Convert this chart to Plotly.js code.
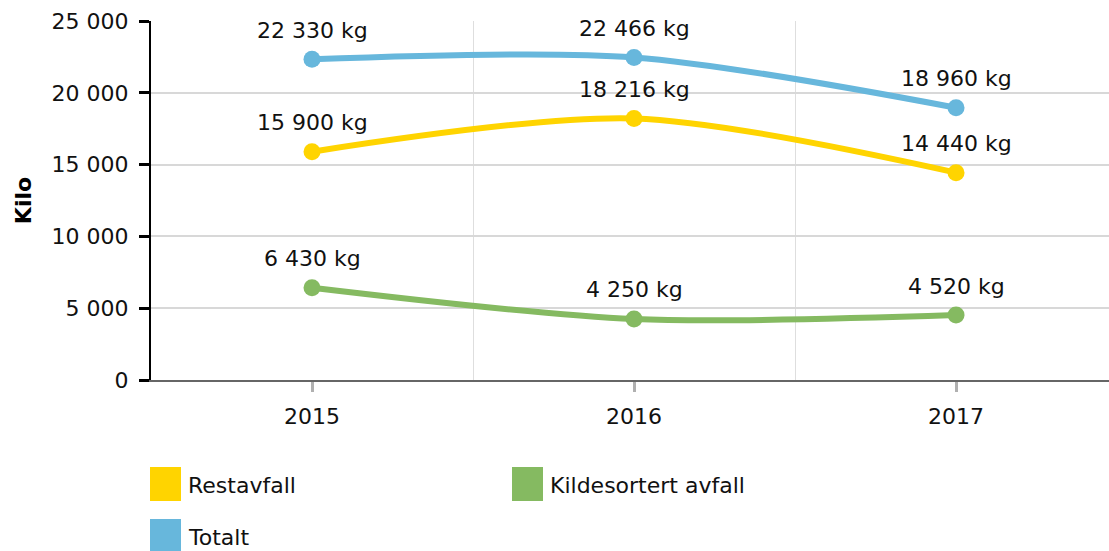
<!DOCTYPE html>
<html>
<head>
<meta charset="utf-8">
<script src="https://cdn.plot.ly/plotly-3.0.1.min.js"></script>
<style>html,body{margin:0;padding:0;background:#fff;}#chart{width:1109px;height:551px;}</style>
</head>
<body>
<div id="chart"></div>
<script>
var years = ["2015", "2016", "2017"];
var seriesNames = ["Restavfall", "Kildesortert avfall", "Totalt"];
var restavfall = [15900, 18216, 14440];
var kildesortert = [6430, 4250, 4520];
var totalt = [22330, 22466, 18960];
var seriesColors = ["#FFD400", "#85BA61", "#67B7DC"];
var yTickVals = [0, 5000, 10000, 15000, 20000, 25000];
var yTickText = ["0", "5 000", "10 000", "15 000", "20 000", "25 000"];

var W = 1109, H = 551;
var L = 151, R = 0, T = 21, B = 171;
var FONT = "DejaVu Sans, Verdana, sans-serif";
var FS = 22;
function px(x) { return (x - L) / (W - L - R); }
function py(y) { return (H - B - y) / (H - T - B); }
function fmt(v) { return String(v).replace(/\B(?=(\d{3})+(?!\d))/g, " ") + " kg"; }

var xIdx = years.map(function (_, i) { return i; });
var allSeries = [restavfall, kildesortert, totalt];

var traces = allSeries.map(function (vals, k) {
  return {
    type: "scatter",
    mode: "lines+markers",
    name: seriesNames[k],
    x: xIdx,
    y: vals,
    line: { color: seriesColors[k], width: 6, shape: "spline", smoothing: 0.85 },
    marker: { color: seriesColors[k], size: 17 },
    showlegend: false,
    hoverinfo: "skip"
  };
});

var annotations = [];
allSeries.forEach(function (vals, k) {
  vals.forEach(function (v, i) {
    annotations.push({
      x: xIdx[i], y: v, xref: "x", yref: "y",
      text: fmt(v), showarrow: false, yshift: 29,
      xanchor: "center", yanchor: "middle",
      font: { family: FONT, size: FS, color: "#111" }
    });
  });
});

// manual legend
var shapes = [];
var legendPos = [[150, 467], [512, 467], [150, 519]];
seriesNames.forEach(function (n, k) {
  var p = legendPos[k];
  shapes.push({
    type: "rect", xref: "paper", yref: "paper",
    x0: px(p[0]), x1: px(p[0] + 31), y0: py(p[1]), y1: py(p[1] + 34),
    fillcolor: seriesColors[k], line: { width: 0 }
  });
  annotations.push({
    xref: "paper", yref: "paper", x: px(p[0] + 36), y: py(p[1] + 18),
    text: n, showarrow: false, xanchor: "left", yanchor: "middle",
    font: { family: FONT, size: FS, color: "#111" }
  });
});

var layout = {
  width: W, height: H,
  margin: { l: L, r: R, t: T, b: B, pad: 0 },
  paper_bgcolor: "#fff", plot_bgcolor: "#fff",
  font: { family: FONT, size: FS, color: "#111" },
  showlegend: false,
  xaxis: {
    range: [-0.5, 2.475],
    tickvals: xIdx, ticktext: years,
    showgrid: false, zeroline: false,
    showline: true, linecolor: "#666", linewidth: 2,
    ticks: "outside", ticklen: 10, tickwidth: 3, tickcolor: "#b0b0b0",
    ticklabelstandoff: 6,
    tickfont: { family: FONT, size: FS, color: "#111" },
    minor: { tickvals: [-0.5, 0.5, 1.5], showgrid: true, gridcolor: "#dedede", gridwidth: 1, ticks: "" },
    fixedrange: true
  },
  yaxis: {
    range: [0, 25000],
    tickvals: yTickVals, ticktext: yTickText,
    showgrid: true, gridcolor: "#d8d8d8", gridwidth: 2,
    zeroline: false,
    showline: true, linecolor: "#000", linewidth: 2,
    ticks: "outside", ticklen: 10, tickwidth: 3, tickcolor: "#000",
    ticklabelstandoff: 6,
    tickfont: { family: FONT, size: FS, color: "#111" },
    title: { text: "<b>Kilo</b>", standoff: 14, font: { family: FONT, size: FS, color: "#000" } },
    fixedrange: true
  },
  shapes: shapes,
  annotations: annotations
};

Plotly.newPlot("chart", traces, layout, { displayModeBar: false, staticPlot: true });
</script>
</body>
</html>
